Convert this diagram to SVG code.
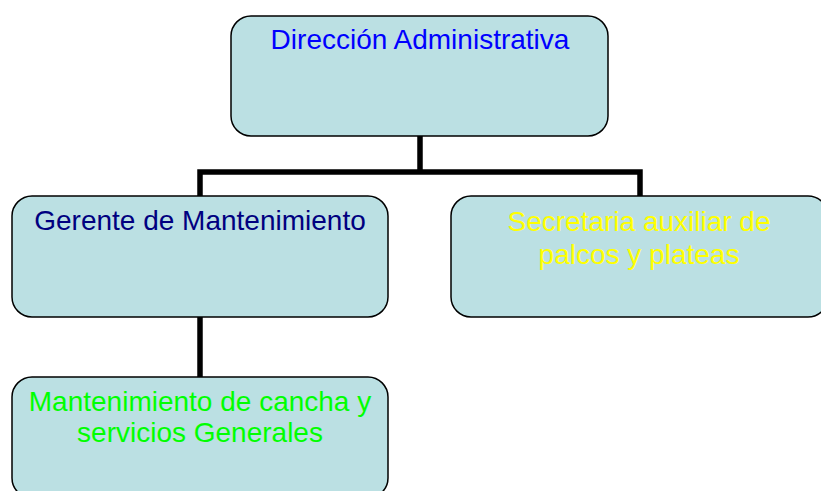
<svg xmlns="http://www.w3.org/2000/svg" width="821" height="491" viewBox="0 0 821 491">
<style>
.box{fill:#BBE0E3;stroke:#000;stroke-width:1.5}
.lbl{font-family:"Liberation Sans",Arial,sans-serif;font-size:28px;text-anchor:middle}
.conn{fill:none;stroke:#000;stroke-width:5.5;stroke-linejoin:miter}
</style>
<rect width="821" height="491" fill="#fff"/>
<g id="connectors">
<path class="conn" d="M420,136 V172 M200,196 V172 H640 V196"/>
<path class="conn" d="M200,317 V377"/>
</g>
<g id="direccion">
<rect class="box" x="231" y="16" width="377" height="120" rx="20"/>
<text class="lbl" x="420" y="48.5" fill="#0000FF">Dirección Administrativa</text>
</g>
<g id="gerente">
<rect class="box" x="12" y="196" width="376" height="121" rx="20"/>
<text class="lbl" x="200" y="230" fill="#000080">Gerente de Mantenimiento</text>
</g>
<g id="secretaria">
<rect class="box" x="451" y="196" width="377" height="121" rx="20"/>
<text class="lbl" x="639" y="230.5" fill="#FFFF00">Secretaria auxiliar de</text>
<text class="lbl" x="639" y="264" fill="#FFFF00">palcos y plateas</text>
</g>
<g id="mantenimiento">
<rect class="box" x="12" y="377" width="376" height="121" rx="20"/>
<text class="lbl" x="200" y="410.5" fill="#00FF00">Mantenimiento de cancha y</text>
<text class="lbl" x="200" y="442" fill="#00FF00">servicios Generales</text>
</g>
</svg>
